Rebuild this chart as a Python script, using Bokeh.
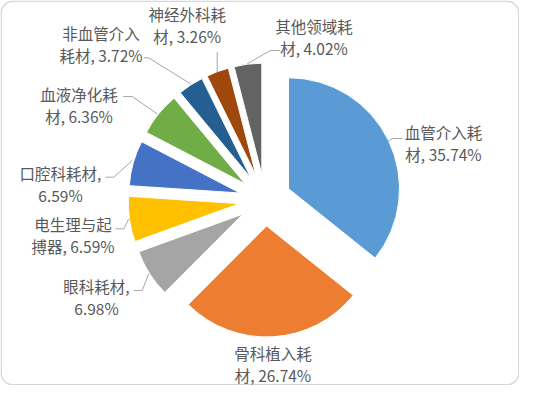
import numpy as np
from bokeh.plotting import figure
from bokeh.models import ColumnDataSource, Range1d, BoxAnnotation
from bokeh.core.properties import value
from bokeh.embed import file_html
from bokeh.resources import INLINE

# ---- data (clockwise from 12 o'clock) ----
categories = ["血管介入耗材", "骨科植入耗材", "眼科耗材", "电生理与起搏器", "口腔科耗材",
              "血液净化耗材", "非血管介入耗材", "神经外科耗材", "其他领域耗材"]
shares = [35.74, 26.74, 6.98, 6.59, 6.59, 6.36, 3.72, 3.26, 4.02]
colors = ["#5B9BD5", "#ED7D31", "#A5A5A5", "#FFC000", "#4472C4",
          "#70AD47", "#255E91", "#9E480E", "#636363"]

# ---- layout (x right, y = -pixel row) ----
W, H = 519, 385
CX, CY = 264.6, -199.5
R = 111.0
EXPLODE = 26.0

label_x = [443, 272.5, 96, 72.5, 60, 78.5, 100.5, 186.7, 313.5]
label_y = [142.5, 363.5, 296, 234.5, 183, 104, 43, 24, 36]
LINE_GAP = 22

leaders = [
    [(387, 141), (392, 138), (402, 138)],
    None,
    [(148.3, 273.3), (141.7, 290), (133.3, 290)],
    [(128.3, 218.3), (123.3, 228.3), (115, 228.3)],
    [(131.7, 160), (113.3, 176.7), (105, 176.7)],
    [(156.7, 113.3), (131.7, 96), (122.7, 96)],
    [(190, 83.3), (148, 57.3), (143.3, 57.3)],
    [(216.7, 71.7), (216.7, 51.7)],
    [(246.7, 63.3), (270, 50), (280, 50)],
]

vals = np.array(shares, dtype=float)
frac = vals / vals.sum()
cum_after = np.cumsum(frac)
cum_before = cum_after - frac
a_start = np.pi / 2 - cum_after * 2 * np.pi
a_end = np.pi / 2 - cum_before * 2 * np.pi
mid = (a_start + a_end) / 2
xs = CX + EXPLODE * np.cos(mid)
ys = CY + EXPLODE * np.sin(mid)

src = ColumnDataSource(dict(x=xs, y=ys, s=a_start, e=a_end, c=colors, name=categories, v=shares))

p = figure(width=W, height=H, output_backend="svg", toolbar_location=None,
           x_range=Range1d(0, W), y_range=Range1d(-H, 0),
           x_axis_location=None, y_axis_location=None, min_border=0,
           background_fill_color="white", border_fill_color="white")
p.grid.visible = False
p.outline_line_color = None

p.wedge(x="x", y="y", radius=R, start_angle="s", end_angle="e",
        direction="anticlock", fill_color="c", line_color="white",
        line_width=1, source=src)

lx, ly = [], []
for pts in leaders:
    if pts is None:
        continue
    lx.append([q[0] for q in pts])
    ly.append([-q[1] for q in pts])
p.multi_line(lx, ly, line_color="#A6A6A6", line_width=1)


def split_label(name, share):
    full = f"{name}, {share:.2f}%"
    cut = 5
    if full[cut] == ",":
        cut += 1
    return full[:cut].strip(), full[cut:].strip()


t1, t2 = [], []
for n, s in zip(categories, shares):
    a, b = split_label(n, s)
    t1.append(a)
    t2.append(b)

ty1 = [-(y - LINE_GAP / 2) for y in label_y]
ty2 = [-(y + LINE_GAP / 2) for y in label_y]
tsrc = ColumnDataSource(dict(x=label_x + label_x, y=ty1 + ty2, t=t1 + t2))
p.text(x="x", y="y", text="t", source=tsrc, text_align="center",
       text_baseline="middle", text_font=value("Noto Sans CJK SC"),
       text_font_size="15.5px", text_color="#595959")

p.add_layout(BoxAnnotation(left=0.75, right=W - 0.75, top=-0.75, bottom=-H + 0.75,
                           fill_color=None, line_color="#7F7F7F", line_width=1.5,
                           border_radius=12))

open("out.html", "w").write(file_html(p, INLINE))
